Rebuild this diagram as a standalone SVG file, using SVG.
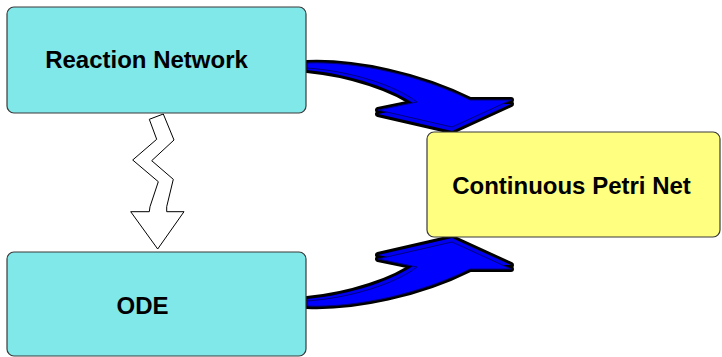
<svg xmlns="http://www.w3.org/2000/svg" width="722" height="357" viewBox="0 0 722 357">
  <defs>
    <style>
      .box { stroke: #3a3a3a; stroke-width: 1.2; }
      .cyan { fill: #80E8E8; }
      .yellow { fill: #FFFF80; }
      .lbl { font-family: "Liberation Sans", Arial, sans-serif; font-weight: bold; font-size: 24px; fill: #000; text-anchor: middle; }
      .outline { fill: #000; stroke: #000; stroke-width: 6; stroke-linejoin: round; }
      .side { fill: #0000F0; stroke: none; }
      .face { fill: #0000FF; stroke: #000080; stroke-width: 1; stroke-linejoin: round; }
    </style>
    <path id="faceShape" d="M307,63 C355,61 420,75 470,100 L511,100 L452,127 L378,110 L417,102 C395,85 350,71 307,68 Z"/>
    <path id="sideShape" d="M307,65 C355,64 420,79 470,104 L511,104 L452,131 L378,114 L417,106 C395,89 350,74 307,70 Z"/>
    <g id="bigArrow">
      <use href="#sideShape" class="outline"/>
      <use href="#faceShape" class="outline"/>
      <use href="#sideShape" class="side"/>
      <use href="#faceShape" class="face"/>
    </g>
  </defs>

  <g id="connectors">
    <g id="arrow-rn-cpn">
      <use href="#bigArrow"/>
    </g>
    <g id="arrow-ode-cpn" transform="translate(0,369) scale(1,-1)">
      <use href="#bigArrow"/>
    </g>
    <g id="arrow-rn-ode">
      <polygon points="149.3,119.3 156.7,139.3 132.7,160 158.3,181.7 150,206.7 149.3,211.7 130.7,211.7 157.7,249 184,211.7 166.7,211.7 166.7,206.7 173.3,179.3 151.7,160.7 174,140 163.3,114" fill="#fff" stroke="#000" stroke-width="1"/>
    </g>
  </g>

  <g id="node-reaction-network">
    <rect class="box cyan" x="7" y="7" width="299" height="106" rx="7"/>
    <text class="lbl" x="146.5" y="68">Reaction Network</text>
  </g>

  <g id="node-ode">
    <rect class="box cyan" x="7" y="252" width="299" height="104" rx="7"/>
    <text class="lbl" x="142.5" y="314">ODE</text>
  </g>

  <g id="node-cpn">
    <rect class="box yellow" x="427" y="132" width="293" height="105" rx="7"/>
    <text class="lbl" x="571.5" y="194">Continuous Petri Net</text>
  </g>
</svg>
